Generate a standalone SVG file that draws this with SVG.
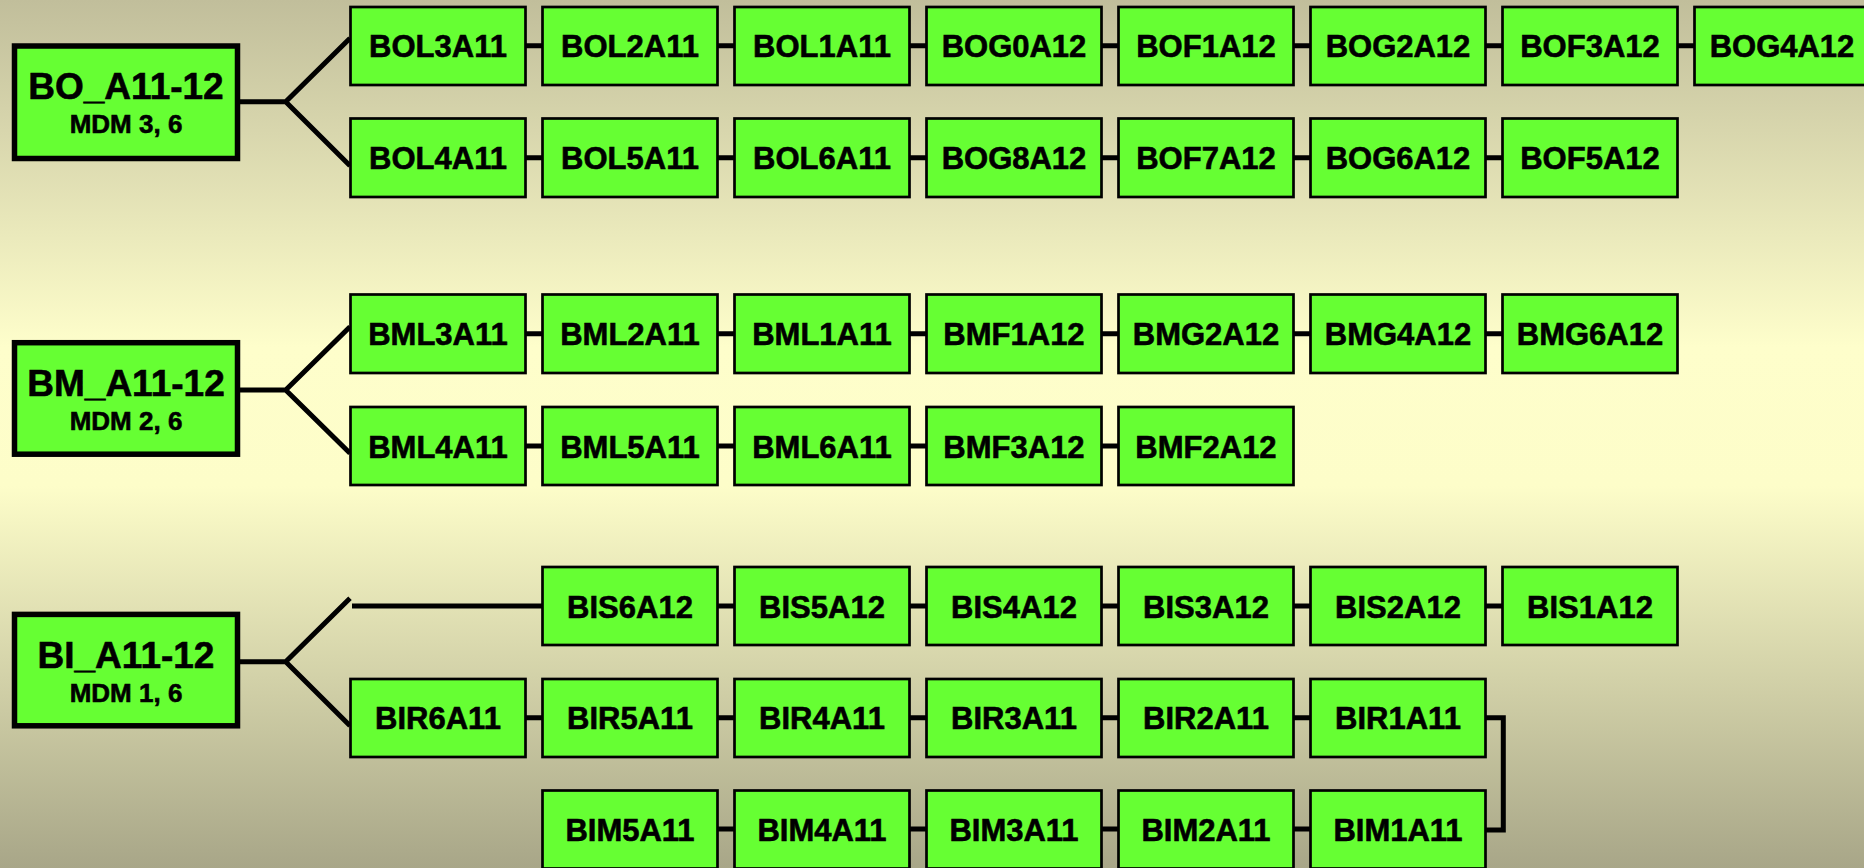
<svg xmlns="http://www.w3.org/2000/svg" width="1864" height="868" viewBox="0 0 1864 868">
<defs>
<linearGradient id="bg" x1="0" y1="0" x2="0" y2="1">
<stop offset="0" stop-color="#c1be9b"/>
<stop offset="0.4" stop-color="#fefecb"/>
<stop offset="0.56" stop-color="#fdfdc9"/>
<stop offset="1" stop-color="#a8a688"/>
</linearGradient>
<style>
.root rect{fill:#66ff33;stroke:#000;stroke-width:5.5}
.node rect{fill:#66ff33;stroke:#000;stroke-width:2.7}
text{font-family:"Liberation Sans",Arial,sans-serif;font-weight:bold;fill:#000;stroke:#000;stroke-width:0.6;text-anchor:middle}
.rt{font-size:37px}
.st{font-size:26px}
.nt{font-size:31px}
#connectors path,#connectors line{stroke:#000;stroke-width:5;fill:none}
</style>
</defs>
<rect x="0" y="0" width="1864" height="868" fill="url(#bg)"/>
<g id="connectors">
<path d="M240,101.7 H285.7 L350,38.3 M285.7,101.7 L350,165.7"/>
<path d="M240,390 H285.7 L350,326.7 M285.7,390 L350,453.3"/>
<path d="M240,661.7 H285.7 L350,598.3 M285.7,661.7 L350,725.7"/>
<line x1="352" y1="606" x2="543" y2="606"/>
<path d="M1485,717.7 H1503.3 V830 H1485"/>
<path d="M525,45.7H543M717,45.7H735M909,45.7H927M1101,45.7H1119M1293,45.7H1311M1485,45.7H1503M1677,45.7H1695"/>
<path d="M525,157.8H543M717,157.8H735M909,157.8H927M1101,157.8H1119M1293,157.8H1311M1485,157.8H1503"/>
<path d="M525,333.7H543M717,333.7H735M909,333.7H927M1101,333.7H1119M1293,333.7H1311M1485,333.7H1503"/>
<path d="M525,446H543M717,446H735M909,446H927M1101,446H1119"/>
<path d="M717,606H735M909,606H927M1101,606H1119M1293,606H1311M1485,606H1503"/>
<path d="M525,717.7H543M717,717.7H735M909,717.7H927M1101,717.7H1119M1293,717.7H1311"/>
<path d="M717,829H735M909,829H927M1101,829H1119M1293,829H1311"/>
</g>
<g id="BO_A11-12" class="root"><rect x="14.5" y="46" width="223" height="112.5"/><text class="rt" x="126" y="99.3">BO_A11-12</text><text class="st" x="126" y="133.3">MDM 3, 6</text></g>
<g id="BM_A11-12" class="root"><rect x="14.5" y="342.7" width="223" height="111.5"/><text class="rt" x="126" y="396">BM_A11-12</text><text class="st" x="126" y="430">MDM 2, 6</text></g>
<g id="BI_A11-12" class="root"><rect x="14.5" y="614.4" width="223" height="111.4"/><text class="rt" x="126" y="667.7">BI_A11-12</text><text class="st" x="126" y="701.7">MDM 1, 6</text></g>
<g id="BOL3A11" class="node"><rect x="350.5" y="7" width="175" height="78"/><text class="nt" x="438" y="57.2">BOL3A11</text></g>
<g id="BOL2A11" class="node"><rect x="542.5" y="7" width="175" height="78"/><text class="nt" x="630" y="57.2">BOL2A11</text></g>
<g id="BOL1A11" class="node"><rect x="734.5" y="7" width="175" height="78"/><text class="nt" x="822" y="57.2">BOL1A11</text></g>
<g id="BOG0A12" class="node"><rect x="926.5" y="7" width="175" height="78"/><text class="nt" x="1014" y="57.2">BOG0A12</text></g>
<g id="BOF1A12" class="node"><rect x="1118.5" y="7" width="175" height="78"/><text class="nt" x="1206" y="57.2">BOF1A12</text></g>
<g id="BOG2A12" class="node"><rect x="1310.5" y="7" width="175" height="78"/><text class="nt" x="1398" y="57.2">BOG2A12</text></g>
<g id="BOF3A12" class="node"><rect x="1502.5" y="7" width="175" height="78"/><text class="nt" x="1590" y="57.2">BOF3A12</text></g>
<g id="BOG4A12" class="node"><rect x="1694.5" y="7" width="175" height="78"/><text class="nt" x="1782" y="57.2">BOG4A12</text></g>
<g id="BOL4A11" class="node"><rect x="350.5" y="118.5" width="175" height="78.5"/><text class="nt" x="438" y="169.3">BOL4A11</text></g>
<g id="BOL5A11" class="node"><rect x="542.5" y="118.5" width="175" height="78.5"/><text class="nt" x="630" y="169.3">BOL5A11</text></g>
<g id="BOL6A11" class="node"><rect x="734.5" y="118.5" width="175" height="78.5"/><text class="nt" x="822" y="169.3">BOL6A11</text></g>
<g id="BOG8A12" class="node"><rect x="926.5" y="118.5" width="175" height="78.5"/><text class="nt" x="1014" y="169.3">BOG8A12</text></g>
<g id="BOF7A12" class="node"><rect x="1118.5" y="118.5" width="175" height="78.5"/><text class="nt" x="1206" y="169.3">BOF7A12</text></g>
<g id="BOG6A12" class="node"><rect x="1310.5" y="118.5" width="175" height="78.5"/><text class="nt" x="1398" y="169.3">BOG6A12</text></g>
<g id="BOF5A12" class="node"><rect x="1502.5" y="118.5" width="175" height="78.5"/><text class="nt" x="1590" y="169.3">BOF5A12</text></g>
<g id="BML3A11" class="node"><rect x="350.5" y="294.5" width="175" height="78.5"/><text class="nt" x="438" y="345.2">BML3A11</text></g>
<g id="BML2A11" class="node"><rect x="542.5" y="294.5" width="175" height="78.5"/><text class="nt" x="630" y="345.2">BML2A11</text></g>
<g id="BML1A11" class="node"><rect x="734.5" y="294.5" width="175" height="78.5"/><text class="nt" x="822" y="345.2">BML1A11</text></g>
<g id="BMF1A12" class="node"><rect x="926.5" y="294.5" width="175" height="78.5"/><text class="nt" x="1014" y="345.2">BMF1A12</text></g>
<g id="BMG2A12" class="node"><rect x="1118.5" y="294.5" width="175" height="78.5"/><text class="nt" x="1206" y="345.2">BMG2A12</text></g>
<g id="BMG4A12" class="node"><rect x="1310.5" y="294.5" width="175" height="78.5"/><text class="nt" x="1398" y="345.2">BMG4A12</text></g>
<g id="BMG6A12" class="node"><rect x="1502.5" y="294.5" width="175" height="78.5"/><text class="nt" x="1590" y="345.2">BMG6A12</text></g>
<g id="BML4A11" class="node"><rect x="350.5" y="407" width="175" height="78"/><text class="nt" x="438" y="457.5">BML4A11</text></g>
<g id="BML5A11" class="node"><rect x="542.5" y="407" width="175" height="78"/><text class="nt" x="630" y="457.5">BML5A11</text></g>
<g id="BML6A11" class="node"><rect x="734.5" y="407" width="175" height="78"/><text class="nt" x="822" y="457.5">BML6A11</text></g>
<g id="BMF3A12" class="node"><rect x="926.5" y="407" width="175" height="78"/><text class="nt" x="1014" y="457.5">BMF3A12</text></g>
<g id="BMF2A12" class="node"><rect x="1118.5" y="407" width="175" height="78"/><text class="nt" x="1206" y="457.5">BMF2A12</text></g>
<g id="BIS6A12" class="node"><rect x="542.5" y="567" width="175" height="78"/><text class="nt" x="630" y="617.5">BIS6A12</text></g>
<g id="BIS5A12" class="node"><rect x="734.5" y="567" width="175" height="78"/><text class="nt" x="822" y="617.5">BIS5A12</text></g>
<g id="BIS4A12" class="node"><rect x="926.5" y="567" width="175" height="78"/><text class="nt" x="1014" y="617.5">BIS4A12</text></g>
<g id="BIS3A12" class="node"><rect x="1118.5" y="567" width="175" height="78"/><text class="nt" x="1206" y="617.5">BIS3A12</text></g>
<g id="BIS2A12" class="node"><rect x="1310.5" y="567" width="175" height="78"/><text class="nt" x="1398" y="617.5">BIS2A12</text></g>
<g id="BIS1A12" class="node"><rect x="1502.5" y="567" width="175" height="78"/><text class="nt" x="1590" y="617.5">BIS1A12</text></g>
<g id="BIR6A11" class="node"><rect x="350.5" y="679" width="175" height="78"/><text class="nt" x="438" y="729.2">BIR6A11</text></g>
<g id="BIR5A11" class="node"><rect x="542.5" y="679" width="175" height="78"/><text class="nt" x="630" y="729.2">BIR5A11</text></g>
<g id="BIR4A11" class="node"><rect x="734.5" y="679" width="175" height="78"/><text class="nt" x="822" y="729.2">BIR4A11</text></g>
<g id="BIR3A11" class="node"><rect x="926.5" y="679" width="175" height="78"/><text class="nt" x="1014" y="729.2">BIR3A11</text></g>
<g id="BIR2A11" class="node"><rect x="1118.5" y="679" width="175" height="78"/><text class="nt" x="1206" y="729.2">BIR2A11</text></g>
<g id="BIR1A11" class="node"><rect x="1310.5" y="679" width="175" height="78"/><text class="nt" x="1398" y="729.2">BIR1A11</text></g>
<g id="BIM5A11" class="node"><rect x="542.5" y="790.5" width="175" height="78"/><text class="nt" x="630" y="840.5">BIM5A11</text></g>
<g id="BIM4A11" class="node"><rect x="734.5" y="790.5" width="175" height="78"/><text class="nt" x="822" y="840.5">BIM4A11</text></g>
<g id="BIM3A11" class="node"><rect x="926.5" y="790.5" width="175" height="78"/><text class="nt" x="1014" y="840.5">BIM3A11</text></g>
<g id="BIM2A11" class="node"><rect x="1118.5" y="790.5" width="175" height="78"/><text class="nt" x="1206" y="840.5">BIM2A11</text></g>
<g id="BIM1A11" class="node"><rect x="1310.5" y="790.5" width="175" height="78"/><text class="nt" x="1398" y="840.5">BIM1A11</text></g>
</svg>
